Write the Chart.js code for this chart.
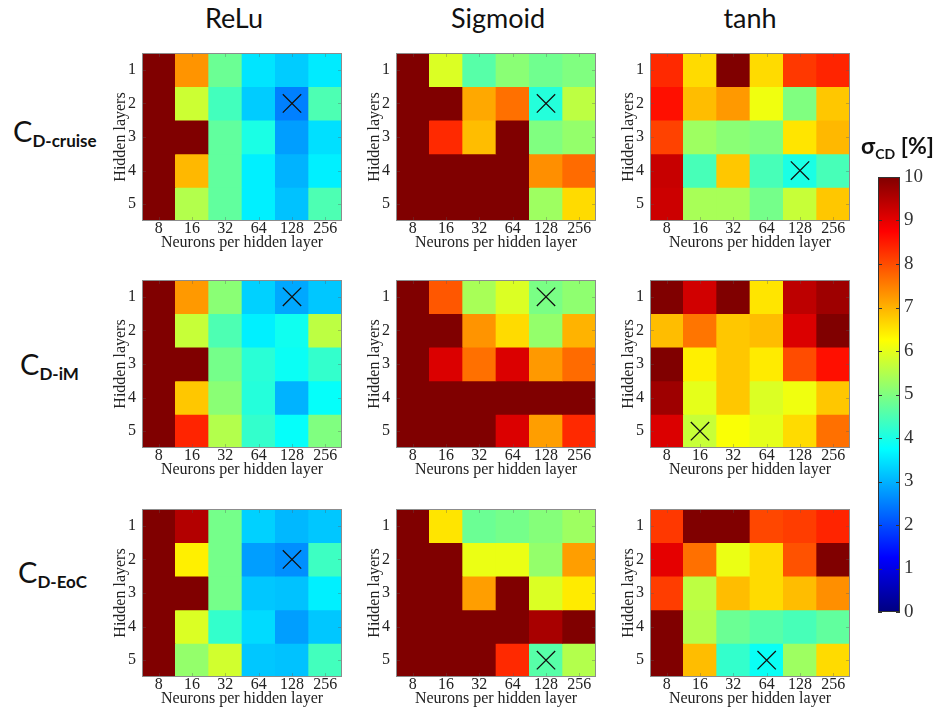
<!DOCTYPE html>
<html>
<head>
<meta charset="utf-8">
<title>Hyperparameter study: σCD</title>
<script src="https://cdn.jsdelivr.net/npm/chart.js@4/dist/chart.umd.min.js"></script>
<style>
  html, body { margin: 0; padding: 0; background: #fff; }
  #fig { position: relative; width: 938px; height: 710px; overflow: hidden;
         font-family: Lato, "Open Sans", sans-serif; color: #111; }
  .panel { position: absolute; display: block; }
  .coltitle { position: absolute; font-size: 27px; line-height: 1; white-space: nowrap;
              transform: translateX(-50%); }
  .rowlabel { position: absolute; font-size: 29px; line-height: 1; white-space: nowrap; }
  .rowlabel span { font-size: 17px; font-weight: 700; vertical-align: -5px; }
  .cbtitle { position: absolute; font-size: 23px; font-weight: 700; line-height: 1; white-space: nowrap; }
  .cbtitle span { font-size: 14px; vertical-align: -5px; }
</style>
</head>
<body>
<div id="fig"></div>
<script>
// ---- data -----------------------------------------------------------------
const ACTIVATIONS = ['ReLu', 'Sigmoid', 'tanh'];
const TARGETS = [['C', 'D-cruise'], ['C', 'D-iM'], ['C', 'D-EoC']];
const NEURONS = ['8', '16', '32', '64', '128', '256'];
const LAYERS = [1, 2, 3, 4, 5];
const CB_MIN = 0;
const CB_MAX = 10;

// σCD [%] per hidden-layer count (rows) and neurons per layer (columns)
const RELU_CRUISE = [
  [10, 7.3, 4.8, 3.5, 3.25, 3.55],
  [10, 5.75, 4.4, 3.25, 2.5, 4.5],
  [10, 10, 4.7, 4.0, 2.8, 3.45],
  [10, 6.95, 4.7, 3.6, 3.0, 3.6],
  [10, 5.5, 4.7, 3.6, 3.15, 4.5]
];
const SIG_CRUISE = [
  [10, 5.9, 4.6, 5.1, 4.85, 5.0],
  [10, 10, 7.1, 7.65, 4.1, 5.6],
  [10, 8.35, 6.9, 10, 5.0, 5.2],
  [10, 10, 10, 10, 7.35, 7.7],
  [10, 10, 10, 10, 5.3, 6.6]
];
const TANH_CRUISE = [
  [8.35, 6.6, 10, 6.6, 8.2, 8.4],
  [8.6, 6.9, 7.25, 6.1, 5.0, 6.8],
  [8.1, 5.3, 5.1, 5.0, 6.5, 6.95],
  [9.3, 4.45, 6.8, 4.45, 4.0, 4.45],
  [9.25, 5.4, 5.4, 4.9, 5.7, 6.8]
];
const RELU_IM = [
  [10, 7.25, 5.1, 3.3, 2.9, 3.2],
  [10, 5.7, 4.5, 3.6, 3.9, 5.6],
  [10, 10, 4.9, 4.15, 3.85, 4.25],
  [10, 6.8, 5.1, 4.1, 3.0, 3.8],
  [10, 8.4, 5.5, 4.25, 3.8, 5.0]
];
const SIG_IM = [
  [10, 7.9, 5.4, 5.9, 4.95, 5.15],
  [10, 10, 7.3, 6.6, 5.2, 7.0],
  [10, 9.1, 7.65, 9.1, 7.25, 7.7],
  [10, 10, 10, 10, 10, 10],
  [10, 10, 10, 9.1, 7.2, 8.35]
];
const TANH_IM = [
  [10, 9.2, 10, 6.5, 9.4, 9.7],
  [6.9, 7.6, 6.8, 6.9, 9.1, 10],
  [10, 6.4, 6.8, 6.45, 8.0, 8.6],
  [9.7, 6.0, 6.8, 5.9, 6.1, 6.8],
  [9.1, 5.7, 6.2, 6.0, 6.6, 7.65]
];
const RELU_EOC = [
  [10, 9.5, 4.9, 3.3, 3.05, 3.2],
  [10, 6.4, 4.9, 2.8, 2.65, 4.35],
  [10, 10, 4.9, 3.2, 3.15, 3.6],
  [10, 5.9, 4.25, 3.4, 2.8, 3.2],
  [10, 5.2, 5.8, 3.2, 3.15, 4.4]
];
const SIG_EOC = [
  [10, 6.5, 4.8, 4.9, 5.05, 5.3],
  [10, 10, 6.05, 6.05, 5.2, 7.2],
  [10, 10, 7.2, 10, 5.9, 6.45],
  [10, 10, 10, 10, 9.6, 10],
  [10, 10, 10, 8.35, 4.6, 5.5]
];
const TANH_EOC = [
  [8.2, 10, 10, 8.05, 8.15, 8.4],
  [9.0, 7.65, 6.05, 6.6, 7.95, 10],
  [8.15, 5.6, 6.9, 6.6, 6.9, 7.35],
  [10, 5.5, 4.8, 4.6, 4.45, 4.7],
  [10, 6.9, 4.25, 3.85, 5.3, 6.6]
];

// best configuration of each panel: [neurons, hidden layers]
const BEST_CRUISE = [['128', 2], ['128', 2], ['128', 4]];
const BEST_IM     = [['128', 1], ['128', 1], ['16', 5]];
const BEST_EOC    = [['128', 2], ['128', 5], ['64', 5]];

const GRID = [
  [RELU_CRUISE, SIG_CRUISE, TANH_CRUISE],
  [RELU_IM, SIG_IM, TANH_IM],
  [RELU_EOC, SIG_EOC, TANH_EOC]
];
const BEST = [BEST_CRUISE, BEST_IM, BEST_EOC];

// ---- layout ---------------------------------------------------------------
const PLOT_LEFT = [142, 396, 650];
const PLOT_TOP = [53, 280, 509];
const PLOT_W = 200, PLOT_H = 168;
const TITLE_X = [234, 498, 750];
const ROWLABEL_POS = [[13, 116], [20, 349], [18, 557]];

const SERIF = '"Liberation Serif", "Times New Roman", serif';

// jet colormap, piecewise linear
const JET_STOPS = [
  [0, '#000080'], [0.125, '#0000ff'], [0.375, '#00ffff'],
  [0.625, '#ffff00'], [0.875, '#ff0000'], [1, '#800000']
];
function jet(v) {
  const t = Math.max(0, Math.min(1, (v - CB_MIN) / (CB_MAX - CB_MIN)));
  const c = x => Math.round(255 * Math.max(0, Math.min(1, x)));
  return `rgb(${c(1.5 - Math.abs(4 * t - 3))},${c(1.5 - Math.abs(4 * t - 2))},${c(1.5 - Math.abs(4 * t - 1))})`;
}

// axes frame with small inward tick marks on all four sides
const frameTicks = {
  id: 'frameTicks',
  afterDraw(chart, _args, opts) {
    const { ctx, chartArea: a, scales } = chart;
    const L = opts.len;
    ctx.save();
    ctx.strokeStyle = opts.tickColor;
    ctx.lineWidth = 1;
    ctx.beginPath();
    if (opts.xTicks && scales.x) {
      scales.x.ticks.forEach((t, i) => {
        const px = Math.round(scales.x.getPixelForTick(i)) + 0.5;
        ctx.moveTo(px, a.top); ctx.lineTo(px, a.top + L);
        ctx.moveTo(px, a.bottom); ctx.lineTo(px, a.bottom - L);
      });
    }
    scales.y.ticks.forEach((t, i) => {
      const py = Math.round(scales.y.getPixelForTick(i)) + 0.5;
      ctx.moveTo(a.left, py); ctx.lineTo(a.left + L, py);
      ctx.moveTo(a.right, py); ctx.lineTo(a.right - L, py);
    });
    ctx.stroke();
    ctx.strokeStyle = opts.color;
    ctx.strokeRect(Math.round(a.left) + 0.5, Math.round(a.top) + 0.5,
                   Math.round(a.width) - 1, Math.round(a.height) - 1);
    ctx.restore();
  }
};

const fig = document.getElementById('fig');

function addCanvas(left, top, w, h) {
  const c = document.createElement('canvas');
  c.className = 'panel';
  c.width = w; c.height = h;
  c.style.left = left + 'px'; c.style.top = top + 'px';
  c.style.width = w + 'px'; c.style.height = h + 'px';
  fig.appendChild(c);
  return c;
}

// ---- heatmap panels -------------------------------------------------------
const PAD_L = 42, PAD_T = 8, PAD_R = 10, X_AXIS_H = 31, Y_AXIS_W = 31;

GRID.forEach((rowOfPanels, r) => {
  rowOfPanels.forEach((values, c) => {
    const canvas = addCanvas(PLOT_LEFT[c] - PAD_L, PLOT_TOP[r] - PAD_T,
                             PAD_L + PLOT_W + PAD_R, PAD_T + PLOT_H + X_AXIS_H);
    const [bx, by] = BEST[r][c];
    const cellSets = values.map((rowVals, i) => ({
      data: rowVals.map(() => [LAYERS[i] - 0.5, LAYERS[i] + 0.5]),
      backgroundColor: rowVals.map(jet),
      borderWidth: 0,
      grouped: false,
      barPercentage: 1,
      categoryPercentage: 1,
      order: 1
    }));
    new Chart(canvas, {
      type: 'bar',
      data: {
        labels: NEURONS,
        datasets: [{
          type: 'line',
          data: [{ x: bx, y: by }],
          showLine: false,
          pointStyle: 'crossRot',
          pointRadius: 13,
          pointBorderWidth: 1.3,
          pointBorderColor: '#111',
          pointBackgroundColor: 'rgba(0,0,0,0)',
          order: 0
        }].concat(cellSets)
      },
      options: {
        responsive: false,
        animation: false,
        devicePixelRatio: 1,
        layout: { autoPadding: false,
                  padding: { left: PAD_L - Y_AXIS_W, top: PAD_T, right: PAD_R, bottom: 0 } },
        plugins: {
          legend: { display: false },
          tooltip: { enabled: false },
          frameTicks: { color: '#8c8c8c', tickColor: 'rgba(90,90,90,0.35)', len: 4, xTicks: true }
        },
        scales: {
          x: {
            grid: { display: false, drawTicks: false },
            border: { display: false },
            ticks: { autoSkip: false, maxRotation: 0, padding: 0, color: '#222',
                     font: { family: SERIF, size: 16, lineHeight: 1 } },
            title: { display: true, text: 'Neurons per hidden layer', color: '#222',
                     padding: 0, font: { family: SERIF, size: 16, lineHeight: 1.2 } },
            afterFit(s) { s.height = X_AXIS_H; s.paddingLeft = 0; s.paddingRight = 0; }
          },
          y: {
            type: 'linear',
            min: LAYERS[0] - 0.5,
            max: LAYERS[LAYERS.length - 1] + 0.5,
            reverse: true,
            grid: { display: false, drawTicks: false },
            border: { display: false },
            afterBuildTicks(s) { s.ticks = LAYERS.map(v => ({ value: v })); },
            ticks: { padding: 6, color: '#222', font: { family: SERIF, size: 16 } },
            title: { display: true, text: 'Hidden layers', color: '#222',
                     padding: 0, font: { family: SERIF, size: 16, lineHeight: 1.2 } },
            afterFit(s) { s.width = Y_AXIS_W; s.paddingTop = 0; s.paddingBottom = 0; }
          }
        }
      },
      plugins: [frameTicks]
    });
  });
});

// ---- colour bar -----------------------------------------------------------
const cbCanvas = addCanvas(870, 160, 68, 470);
new Chart(cbCanvas, {
  type: 'bar',
  data: {
    labels: [''],
    datasets: [{
      data: [[CB_MIN, CB_MAX]],
      barPercentage: 1,
      categoryPercentage: 1,
      borderWidth: 0,
      backgroundColor(ctx) {
        const ch = ctx.chart;
        if (!ch.chartArea) return null;
        const y = ch.scales.y;
        const g = ch.ctx.createLinearGradient(0, y.getPixelForValue(CB_MIN), 0, y.getPixelForValue(CB_MAX));
        JET_STOPS.forEach(([p, col]) => g.addColorStop(p, col));
        return g;
      }
    }]
  },
  options: {
    responsive: false,
    animation: false,
    devicePixelRatio: 1,
    layout: { autoPadding: false, padding: { left: 8, top: 17, right: 0, bottom: 18 } },
    plugins: {
      legend: { display: false },
      tooltip: { enabled: false },
      frameTicks: { color: '#333', tickColor: '#333', len: 4, xTicks: false }
    },
    scales: {
      x: { display: false },
      y: {
        position: 'right',
        min: CB_MIN,
        max: CB_MAX,
        grid: { display: false, drawTicks: false },
        border: { display: false },
        ticks: { stepSize: 1, padding: 4, color: '#333', font: { family: SERIF, size: 19 } },
        afterFit(s) { s.width = 38; s.paddingTop = 0; s.paddingBottom = 0; }
      }
    }
  },
  plugins: [frameTicks]
});

// ---- text labels ----------------------------------------------------------
ACTIVATIONS.forEach((name, c) => {
  const d = document.createElement('div');
  d.className = 'coltitle';
  d.textContent = name;
  d.style.left = TITLE_X[c] + 'px';
  d.style.top = '4px';
  fig.appendChild(d);
});

TARGETS.forEach(([main, sub], r) => {
  const d = document.createElement('div');
  d.className = 'rowlabel';
  d.style.left = ROWLABEL_POS[r][0] + 'px';
  d.style.top = ROWLABEL_POS[r][1] + 'px';
  d.appendChild(document.createTextNode(main));
  const s = document.createElement('span');
  s.textContent = sub;
  d.appendChild(s);
  fig.appendChild(d);
});

const cbt = document.createElement('div');
cbt.className = 'cbtitle';
cbt.style.left = '861px';
cbt.style.top = '134px';
cbt.innerHTML = 'σ<span>CD</span> [%]';
fig.appendChild(cbt);
</script>
</body>
</html>
